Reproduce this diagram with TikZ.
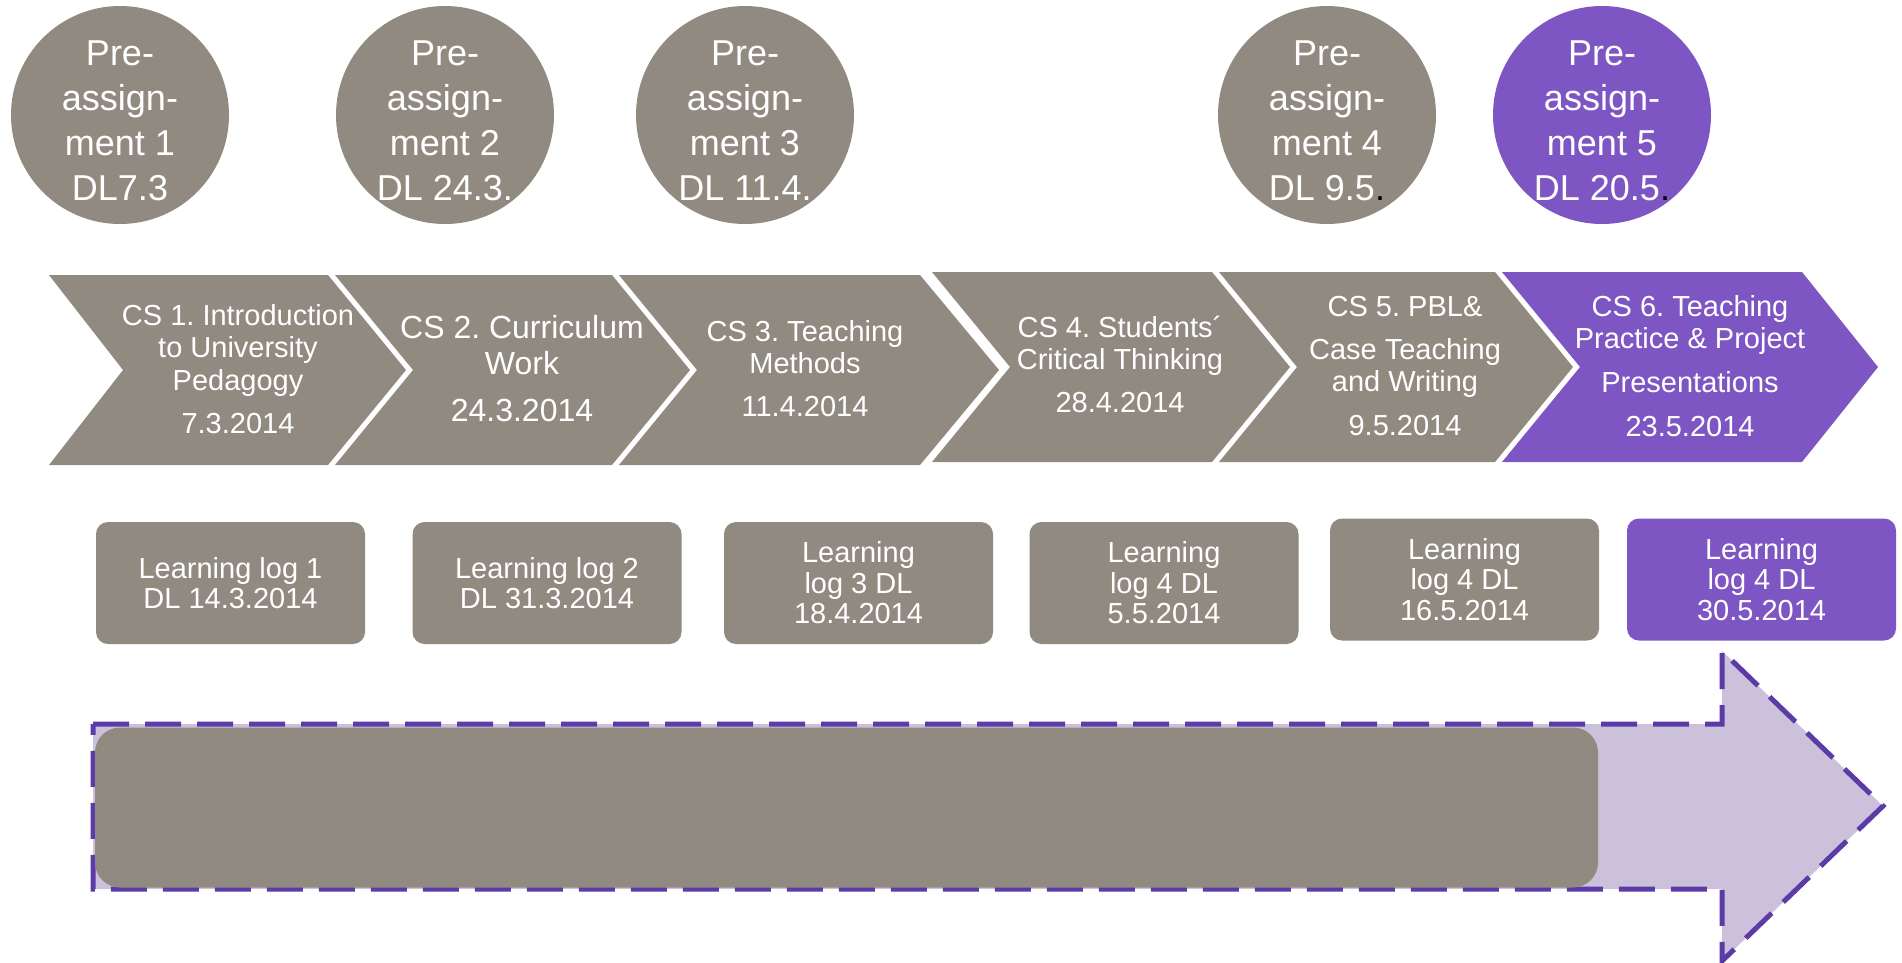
\documentclass[tikz,border=0pt]{standalone}
\usepackage{fontspec}
\setmainfont{Liberation Sans}
\usetikzlibrary{calc}
\frenchspacing
\definecolor{taupe}{RGB}{145,138,128}
\definecolor{accent}{RGB}{126,86,196}
\definecolor{lilac}{RGB}{203,193,219}
\definecolor{dashpurple}{RGB}{92,58,168}
\tikzset{
  disc/.style={circle, minimum size=218pt, inner sep=0pt, fill=taupe},
  disctext/.style={text=white, align=center, inner sep=0pt,
    font=\fontsize{36}{45}\selectfont},
  chevshape/.style={fill=taupe},
  chevtext/.style={text=white, align=center, inner sep=0pt,
    font=\fontsize{29}{32.5}\selectfont},
  logbox/.style={rectangle, rounded corners=12pt, minimum width=269pt,
    minimum height=122pt, inner sep=0pt, fill=taupe, text=white,
    align=center, font=\fontsize{29}{30.5}\selectfont},
  bigarrow/.style={fill=lilac, draw=dashpurple, line width=5pt,
    dash pattern=on 36pt off 16pt},
}
\begin{document}
\begin{tikzpicture}[x=1pt,y=-1pt]
\useasboundingbox (0,0) rectangle (1902,962);
\fill[white] (0,0) rectangle (1902,962);

% pre-assignment discs
\node[disc] (pa1) at (120,115) {};
\node[disc] (pa2) at (445,115) {};
\node[disc] (pa3) at (745,115) {};
\node[disc] (pa4) at (1327,115) {};
\node[disc, fill=accent] (pa5) at (1602,115) {};
\node[disctext] (pa1t) at (120,121) {Pre-\\assign-\\ment 1\\DL7.3};
\node[disctext] (pa2t) at (445,121) {Pre-\\assign-\\ment 2\\DL 24.3.};
\node[disctext] (pa3t) at (745,121) {Pre-\\assign-\\ment 3\\DL 11.4.};
\node[disctext] (pa4t) at (1327,121) {Pre-\\assign-\\ment 4\\DL 9.5\textcolor{black}{.}};
\node[disctext] (pa5t) at (1602,121) {Pre-\\assign-\\ment 5\\DL 20.5\textcolor{black}{.}};

% contact-session chevrons
\fill[chevshape] (49,275) -- (328,275) -- (406,370) -- (328,465) -- (49,465) -- (123,370) -- cycle;
\fill[chevshape] (335,275) -- (612,275) -- (690,370) -- (612,465) -- (335,465) -- (413,370) -- cycle;
\fill[chevshape] (619,275) -- (920,275) -- (999,370) -- (920,465) -- (619,465) -- (697,370) -- cycle;
\fill[chevshape] (932,272) -- (1212,272) -- (1290,367) -- (1212,462) -- (932,462) -- (1010,367) -- cycle;
\fill[chevshape] (1219,272) -- (1495,272) -- (1573,367) -- (1495,462) -- (1219,462) -- (1297,367) -- cycle;
\fill[chevshape, fill=accent] (1502,272) -- (1802,272) -- (1878,367) -- (1802,462) -- (1502,462) -- (1580,367) -- cycle;

\node[chevtext] (cs1) at (238,369) {CS 1. Introduction\\to University\\Pedagogy\\[10.5pt]7.3.2014};
\node[chevtext, font=\fontsize{32}{36}\selectfont] (cs2) at (522,368.5) {CS 2. Curriculum\\Work\\[11pt]24.3.2014};
\node[chevtext] (cs3) at (805,368.5) {CS 3. Teaching\\Methods\\[10.5pt]11.4.2014};
\node[chevtext] (cs4) at (1120,364) {CS 4. Students´\\Critical Thinking\\[10pt]28.4.2014};
\node[chevtext] (cs5) at (1405,366) {CS 5. PBL\&\\[10.5pt]Case Teaching\\and Writing\\[11pt]9.5.2014};
\node[chevtext] (cs6) at (1690,366) {CS 6. Teaching\\Practice \& Project\\[11.5pt]Presentations\\[11.5pt]23.5.2014};

% learning logs
\node[logbox] (ll1) at (230.5,583) {Learning log 1\\DL 14.3.2014};
\node[logbox] (ll2) at (547,583) {Learning log 2\\DL 31.3.2014};
\node[logbox] (ll3) at (858.5,583) {Learning\\log 3 DL\\18.4.2014};
\node[logbox] (ll4) at (1164,583) {Learning\\log 4 DL\\5.5.2014};
\node[logbox] (ll5) at (1464.5,579.5) {Learning\\log 4 DL\\16.5.2014};
\node[logbox, fill=accent] (ll6) at (1761.5,579.5) {Learning\\log 4 DL\\30.5.2014};

% course timeline arrow with progress bar
\draw[bigarrow] (93,724) -- (1722,724) -- (1722,651) -- (1883,806)
  -- (1722,961) -- (1722,889) -- (93,889) -- cycle;
\node[rectangle, rounded corners=25pt, fill=taupe, inner sep=0pt,
  minimum width=1503pt, minimum height=160pt] (track) at (846.5,807.5) {};
\end{tikzpicture}
\end{document}
